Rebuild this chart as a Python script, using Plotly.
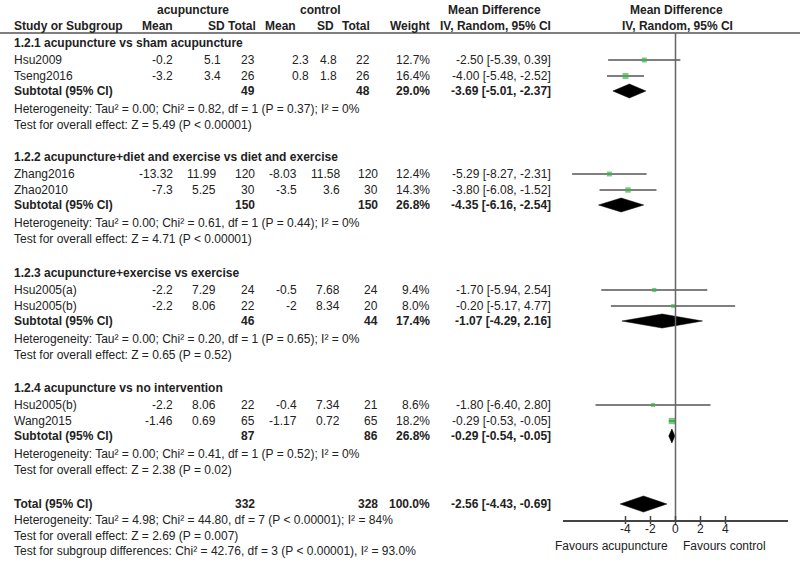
import plotly.graph_objects as go

# ---------------- data ----------------
section_titles = [
    "1.2.1 acupuncture vs sham acupuncture",
    "1.2.2 acupuncture+diet and exercise vs diet and exercise",
    "1.2.3 acupuncture+exercise vs exercise",
    "1.2.4 acupuncture vs no intervention",
]
study_names = ["Hsu2009", "Tseng2016", "Zhang2016", "Zhao2010",
               "Hsu2005(a)", "Hsu2005(b)", "Hsu2005(b)", "Wang2015"]
study_group = [0, 0, 1, 1, 2, 2, 3, 3]
acu_mean = [-0.2, -3.2, -13.32, -7.3, -2.2, -2.2, -2.2, -1.46]
acu_sd = [5.1, 3.4, 11.99, 5.25, 7.29, 8.06, 8.06, 0.69]
acu_n = [23, 26, 120, 30, 24, 22, 22, 65]
ctl_mean = [2.3, 0.8, -8.03, -3.5, -0.5, -2, -0.4, -1.17]
ctl_sd = [4.8, 1.8, 11.58, 3.6, 7.68, 8.34, 7.34, 0.72]
ctl_n = [22, 26, 120, 30, 24, 20, 21, 65]
weight = [12.7, 16.4, 12.4, 14.3, 9.4, 8.0, 8.6, 18.2]
md = [-2.50, -4.00, -5.29, -3.80, -1.70, -0.20, -1.80, -0.29]
md_lo = [-5.39, -5.48, -8.27, -6.08, -5.94, -5.17, -6.40, -0.53]
md_hi = [0.39, -2.52, -2.31, -1.52, 2.54, 4.77, 2.80, -0.05]

sub_acu_n = [49, 150, 46, 87]
sub_ctl_n = [48, 150, 44, 86]
sub_weight = [29.0, 26.8, 17.4, 26.8]
sub_md = [-3.69, -4.35, -1.07, -0.29]
sub_lo = [-5.01, -6.16, -4.29, -0.54]
sub_hi = [-2.37, -2.54, 2.16, -0.05]
het_tau2 = [0.00, 0.00, 0.00, 0.00]
het_chi2 = [0.82, 0.61, 0.20, 0.41]
het_df = [1, 1, 1, 1]
het_p = [0.37, 0.44, 0.65, 0.52]
het_i2 = [0, 0, 0, 0]
z_val = [5.49, 4.71, 0.65, 2.38]
z_p = ["P < 0.00001", "P < 0.00001", "P = 0.52", "P = 0.02"]

total_acu_n = 332
total_ctl_n = 328
total_weight = 100.0
total_md = -2.56
total_lo = -4.43
total_hi = -0.69
total_het = "Heterogeneity: Tau² = 4.98; Chi² = 44.80, df = 7 (P < 0.00001); I² = 84%"
total_test = "Test for overall effect: Z = 2.69 (P = 0.007)"
subgroup_test = "Test for subgroup differences: Chi² = 42.76, df = 3 (P < 0.00001), I² = 93.0%"

tick_vals = [-4, -2, 0, 2, 4]
tick_text = ["-4", "-2", "0", "2", "4"]
x_range = [-9, 9]

# ---------------- layout constants (screen pixels) ----------------
W, H = 800, 562
FONT = "Liberation Sans, Arial, sans-serif"
TXT = "#222222"
FS = 12
LEFT = 12
# column right edges: first subgroup block is set slightly narrower in the source
COL_A = dict(acu_mean=175, acu_sd=223, acu_n=257, ctl_mean=311, ctl_sd=339,
             ctl_n=372, weight=432, ci=553)
COL_B = dict(acu_mean=175, acu_sd=218, acu_n=257, ctl_mean=299, ctl_sd=342,
             ctl_n=380, weight=432, ci=553)
sec_cols = [COL_A, COL_B, COL_B, COL_B]
sec_top = [43, 157, 273, 388]
OFF_STUDY = [17, 33]
OFF_SUB, OFF_HET, OFF_TEST = 48, 66, 82
TOTAL_Y = 504
AXIS_Y = 520
HEAD_LINE_Y = 33
PLOT_X0, PLOT_X1 = 563, 788

ann = []


def txt(x, y, s, anchor="right", bold=False, size=FS, xref="x"):
    ann.append(dict(x=x, y=y, xref=xref, yref="y", text=f"<b>{s}</b>" if bold else s,
                    showarrow=False, xanchor=anchor, yanchor="middle",
                    font=dict(family=FONT, size=size, color=TXT)))


def fmt_ci(m, lo, hi):
    return f"{m:.2f} [{lo:.2f}, {hi:.2f}]"


# header
txt(193, 10, "acupuncture", "center", True)
txt(320, 10, "control", "center", True)
txt(494, 10, "Mean Difference", "center", True)
txt(676, 10, "Mean Difference", "center", True)
txt(LEFT, 26, "Study or Subgroup", "left", True)
txt(175, 26, "Mean", bold=True)
txt(227, 26, "SD", bold=True)
txt(258, 26, "Total", bold=True)
txt(298, 26, "Mean", bold=True)
txt(336, 26, "SD", bold=True)
txt(372, 26, "Total", bold=True)
txt(432, 26, "Weight", bold=True)
txt(495, 26, "IV, Random, 95% CI", "center", True)
txt(677, 26, "IV, Random, 95% CI", "center", True)

study_y = []
counter = [0, 0, 0, 0]
for i, g in enumerate(study_group):
    c = sec_cols[g]
    y = sec_top[g] + OFF_STUDY[counter[g]]
    counter[g] += 1
    study_y.append(y)
    txt(LEFT, y, study_names[i], "left")
    txt(c["acu_mean"], y, f"{acu_mean[i]:g}")
    txt(c["acu_sd"], y, f"{acu_sd[i]:g}")
    txt(c["acu_n"], y, f"{acu_n[i]}")
    txt(c["ctl_mean"], y, f"{ctl_mean[i]:g}")
    txt(c["ctl_sd"], y, f"{ctl_sd[i]:g}")
    txt(c["ctl_n"], y, f"{ctl_n[i]}")
    txt(c["weight"], y, f"{weight[i]:.1f}%")
    txt(c["ci"], y, fmt_ci(md[i], md_lo[i], md_hi[i]))

sub_y = []
for g in range(4):
    c = sec_cols[g]
    t = sec_top[g]
    txt(LEFT, t, section_titles[g], "left", True)
    y = t + OFF_SUB
    sub_y.append(y)
    txt(LEFT, y, "Subtotal (95% CI)", "left", True)
    txt(c["acu_n"], y, f"{sub_acu_n[g]}", bold=True)
    txt(c["ctl_n"], y, f"{sub_ctl_n[g]}", bold=True)
    txt(c["weight"], y, f"{sub_weight[g]:.1f}%", bold=True)
    txt(c["ci"], y, fmt_ci(sub_md[g], sub_lo[g], sub_hi[g]), bold=True)
    txt(LEFT, t + OFF_HET,
        f"Heterogeneity: Tau² = {het_tau2[g]:.2f}; Chi² = {het_chi2[g]:.2f}, df = {het_df[g]} "
        f"(P = {het_p[g]:.2f}); I² = {het_i2[g]}%", "left")
    txt(LEFT, t + OFF_TEST, f"Test for overall effect: Z = {z_val[g]:.2f} ({z_p[g]})", "left")

txt(LEFT, TOTAL_Y, "Total (95% CI)", "left", True)
txt(COL_B["acu_n"], TOTAL_Y, f"{total_acu_n}", bold=True)
txt(COL_B["ctl_n"], TOTAL_Y, f"{total_ctl_n}", bold=True)
txt(COL_B["weight"], TOTAL_Y, f"{total_weight:.1f}%", bold=True)
txt(COL_B["ci"], TOTAL_Y, fmt_ci(total_md, total_lo, total_hi), bold=True)
txt(LEFT, TOTAL_Y + 16, total_het, "left")
txt(LEFT, TOTAL_Y + 32, total_test, "left")
txt(LEFT, TOTAL_Y + 47, subgroup_test, "left")

txt(611, 546, "Favours acupuncture", "center")
txt(724, 546, "Favours control", "center")

# tick labels of the forest axis
for v, s in zip(tick_vals, tick_text):
    txt(v, 529, s, "center", xref="x2")

fig = go.Figure()

# CI lines
lx, ly = [], []
for i in range(len(md)):
    lx += [md_lo[i], md_hi[i], None]
    ly += [study_y[i], study_y[i], None]
fig.add_trace(go.Scatter(x=lx, y=ly, mode="lines", xaxis="x2", yaxis="y2",
                         line=dict(color="#555555", width=1.5), hoverinfo="skip"))

# study squares
fig.add_trace(go.Scatter(x=md, y=study_y, mode="markers", xaxis="x2", yaxis="y2",
                         marker=dict(symbol="square", color="#3db54a",
                                     size=[1.8 + 0.25 * w for w in weight],
                                     line=dict(width=0))))

# diamonds
HH = 7
dx, dy = [], []
for g in range(4):
    y = sub_y[g]
    dx += [sub_lo[g], sub_md[g], sub_hi[g], sub_md[g], sub_lo[g], None]
    dy += [y, y - HH, y, y + HH, y, None]
dx += [total_lo, total_md, total_hi, total_md, total_lo]
dy += [TOTAL_Y, TOTAL_Y - HH - 1, TOTAL_Y, TOTAL_Y + HH + 1, TOTAL_Y]
fig.add_trace(go.Scatter(x=dx, y=dy, mode="lines", fill="toself", fillcolor="black",
                         xaxis="x2", yaxis="y2", line=dict(color="black", width=0.5),
                         hoverinfo="skip"))

shapes = [
    dict(type="line", xref="paper", yref="y", x0=0, x1=1, y0=HEAD_LINE_Y, y1=HEAD_LINE_Y,
         line=dict(color="#555555", width=1.5)),
    dict(type="line", xref="x2", yref="y", x0=0, x1=0, y0=HEAD_LINE_Y, y1=AXIS_Y,
         line=dict(color="#666666", width=1.5)),
]
for v in tick_vals:
    shapes.append(dict(type="line", xref="x2", yref="y", x0=v, x1=v,
                       y0=AXIS_Y - 4, y1=AXIS_Y + 4,
                       line=dict(color="#444444", width=1.5)))

fig.update_layout(
    width=W, height=H, margin=dict(l=0, r=0, t=0, b=0),
    paper_bgcolor="white", plot_bgcolor="rgba(0,0,0,0)",
    showlegend=False, annotations=ann, shapes=shapes,
    xaxis=dict(range=[0, W], domain=[0, 1], visible=False, fixedrange=True),
    yaxis=dict(range=[H, 0], domain=[0, 1], visible=False, fixedrange=True),
    xaxis2=dict(range=x_range, domain=[PLOT_X0 / W, PLOT_X1 / W],
                anchor="y2", showline=True, linecolor="#444444", linewidth=1.5,
                ticks="", showticklabels=False, showgrid=False, zeroline=False,
                fixedrange=True),
    yaxis2=dict(range=[AXIS_Y, 0], domain=[(H - AXIS_Y) / H, 1], anchor="x2",
                visible=False, fixedrange=True),
)

# remove the page's default body margin so the figure sits at the window origin
fig.write_html("out.html", config={"displayModeBar": False},
               post_script="document.body.style.margin='0px';document.body.style.overflow='hidden';")
